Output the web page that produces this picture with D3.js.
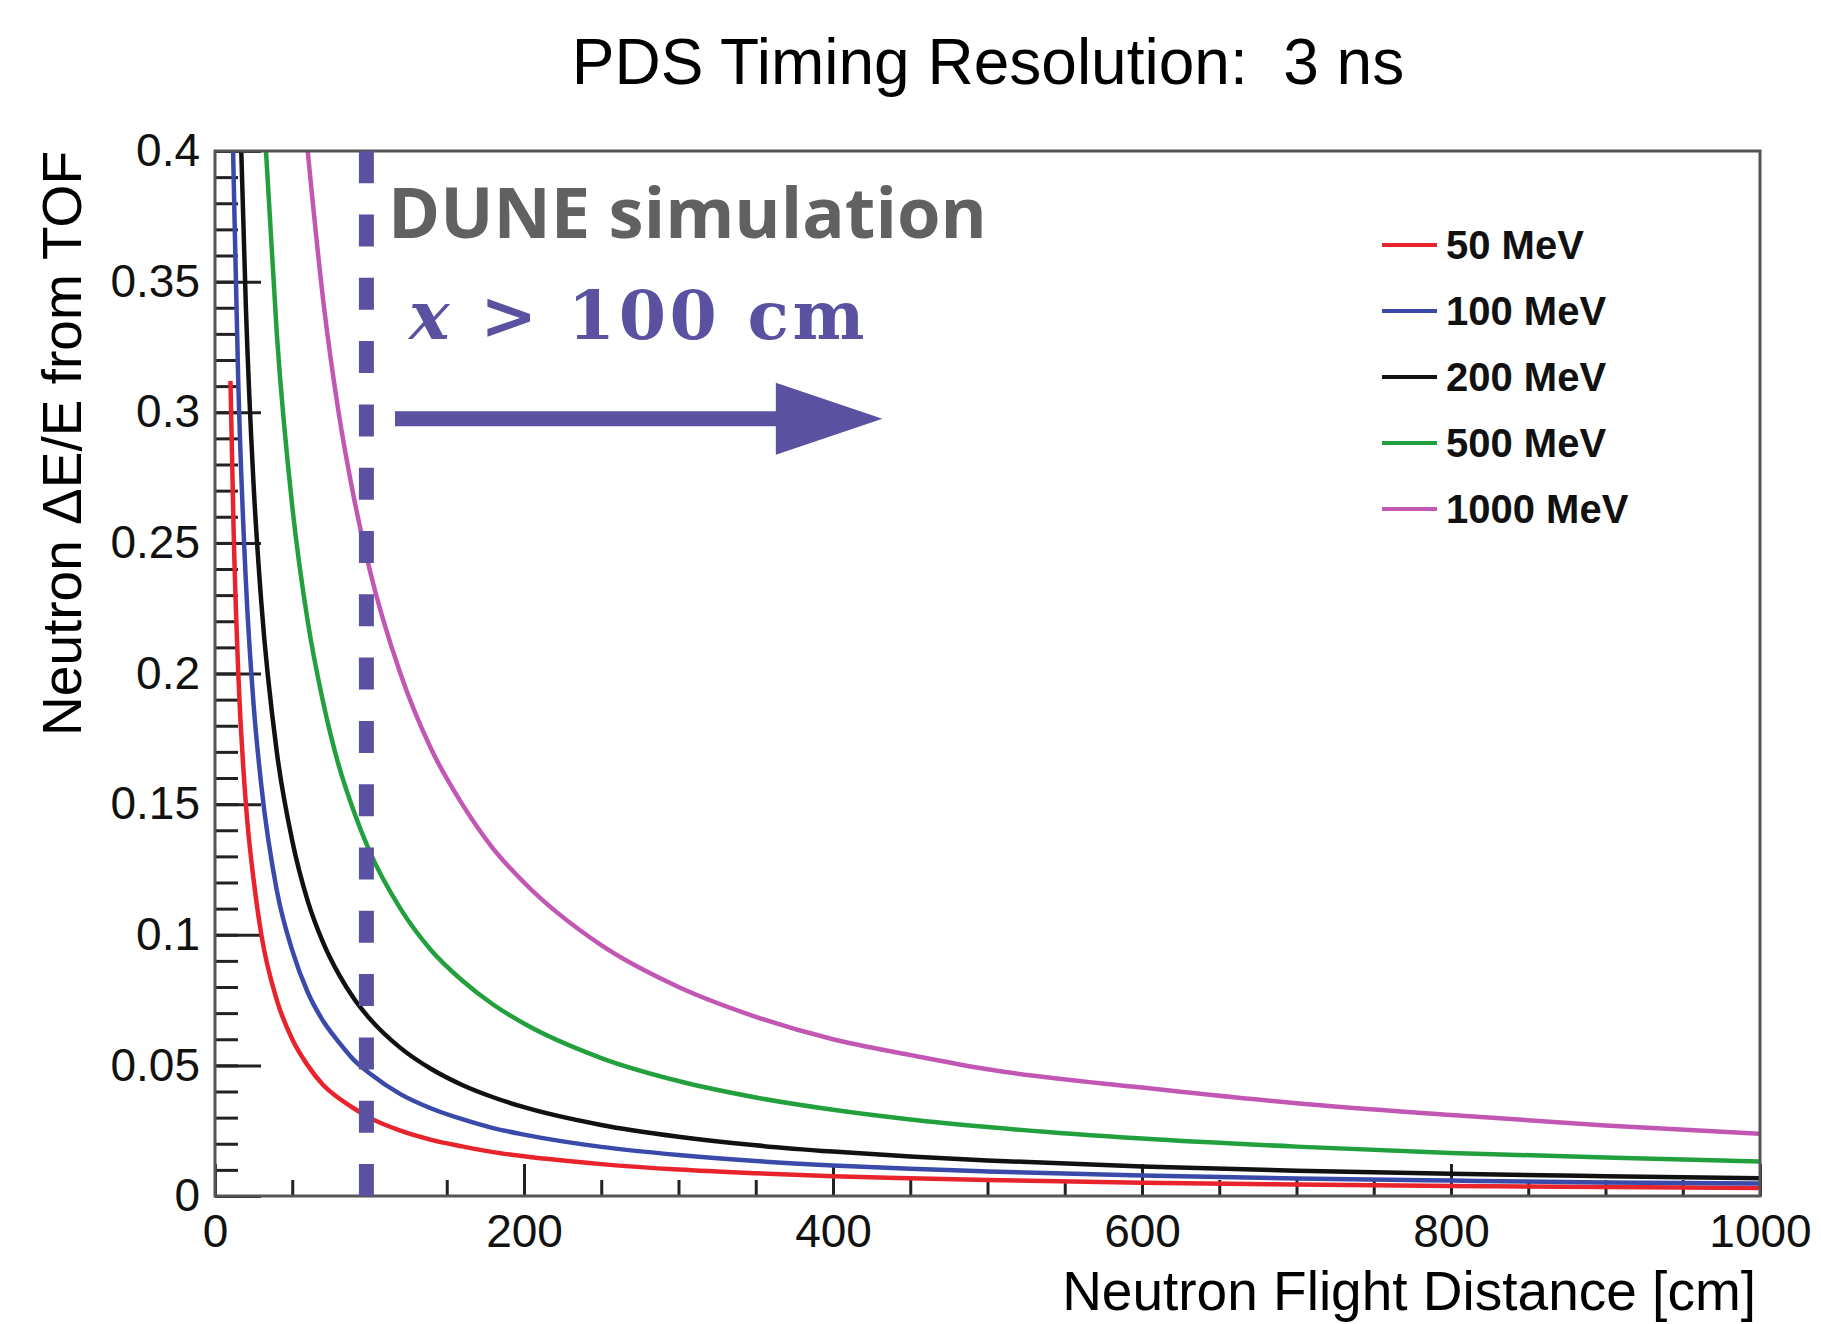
<!DOCTYPE html>
<html>
<head>
<meta charset="utf-8">
<script src="https://cdn.jsdelivr.net/npm/d3@7"></script>
<style>
    body { margin: 0; background: #fff; }
    svg text { font-family: "Liberation Sans", Arial, sans-serif; }
</style>
</head>
<body>
<div id="chart"></div>
<script>
// values (neutron energy resolution from TOF, 3 ns)
const distances = [10, 12, 15, 20, 25, 30, 40, 50, 60, 70, 80, 90, 100, 120, 140, 160, 180, 200,
    250, 300, 350, 400, 450, 500, 600, 700, 800, 900, 1000];

const res50 = [0.312, 0.256, 0.201, 0.150, 0.121, 0.100, 0.075, 0.060, 0.050, 0.0425, 0.0375, 0.0335, 0.030,
    0.025, 0.0215, 0.019, 0.0168, 0.0152, 0.0122, 0.0101, 0.0087, 0.0076, 0.0068, 0.0061, 0.0051, 0.0044,
    0.0038, 0.0034, 0.0031];
const res100 = [null, 0.392, 0.313, 0.235, 0.188, 0.157, 0.117, 0.094, 0.078, 0.067, 0.059, 0.052, 0.047,
    0.039, 0.0335, 0.0294, 0.026, 0.0235, 0.0188, 0.0157, 0.0134, 0.0117, 0.0104, 0.0094, 0.0078, 0.0067,
    0.0059, 0.0052, 0.0048];
const res200 = [null, null, null, 0.340, 0.272, 0.227, 0.170, 0.136, 0.113, 0.097, 0.085, 0.0755, 0.068,
    0.0567, 0.0486, 0.0425, 0.0378, 0.034, 0.0272, 0.0227, 0.0194, 0.017, 0.0151, 0.0136, 0.0113, 0.0097,
    0.0085, 0.0076, 0.0068];
const res500 = [null, null, null, null, null, null, 0.330, 0.264, 0.220, 0.189, 0.165, 0.147, 0.132,
    0.110, 0.094, 0.0825, 0.0733, 0.066, 0.0528, 0.044, 0.0377, 0.033, 0.0293, 0.0264, 0.022, 0.0189,
    0.0165, 0.0147, 0.0132];
const res1000 = [null, null, null, null, null, null, null, null, null, 0.343, 0.300, 0.267, 0.240,
    0.200, 0.171, 0.150, 0.133, 0.120, 0.096, 0.080, 0.0686, 0.060, 0.054, 0.0485, 0.0415, 0.0355,
    0.031, 0.027, 0.0238];

// distance where each curve comes down through the top of the frame (0.4)
const topCrossing = [null, 11.7, 17, 33, 60];

const energyLabels = ["50 MeV", "100 MeV", "200 MeV", "500 MeV", "1000 MeV"];
const lineColors = ["#e8232b", "#3a4aab", "#111111", "#23a03e", "#c257b3"];

const xTickValues = [0, 200, 400, 600, 800, 1000];
const xTickLabels = ["0", "200", "400", "600", "800", "1000"];
const yTickValues = [0, 0.05, 0.1, 0.15, 0.2, 0.25, 0.3, 0.35, 0.4];
const yTickLabels = ["0", "0.05", "0.1", "0.15", "0.2", "0.25", "0.3", "0.35", "0.4"];

const cutDistance = 98;   // hand drawn x > 100 cm marker, sits a bit left of 100


class ResolutionPlot {

    constructor(parentElement, dimCanvas) {
        this.parentElement = parentElement;
        this.dimCanvas = dimCanvas;

        this.initVis();
    }

    initVis() {
        let vis = this;

        vis.margin = {top: 151, right: 61, bottom: 128, left: 215};
        vis.width = vis.dimCanvas.width - vis.margin.left - vis.margin.right;
        vis.height = vis.dimCanvas.height - vis.margin.top - vis.margin.bottom;

        vis.svg = d3.select(vis.parentElement)
            .append("svg")
            .attr("width", vis.dimCanvas.width)
            .attr("height", vis.dimCanvas.height)
            .style("background", "#fff");

        vis.plot = vis.svg.append("g")
            .attr("transform", "translate(" + vis.margin.left + "," + vis.margin.top + ")");

        vis.svg.append("defs").append("clipPath")
            .attr("id", "frame-clip")
            .append("rect")
            .attr("width", vis.width)
            .attr("height", vis.height);

        // scales
        vis.xScale = d3.scaleLinear().domain([0, 1000]).range([0, vis.width]);
        vis.yScale = d3.scaleLinear().domain([0, 0.4]).range([vis.height, 0]);

        // title
        vis.svg.append("text")
            .attr("x", 988)
            .attr("y", 84)
            .attr("text-anchor", "middle")
            .style("font-size", "64px")
            .style("white-space", "pre")
            .text("PDS Timing Resolution:  3 ns");

        // axis titles
        vis.svg.append("text")
            .attr("x", vis.margin.left + vis.width - 4)
            .attr("y", 1310)
            .attr("text-anchor", "end")
            .style("font-size", "55px")
            .text("Neutron Flight Distance [cm]");

        vis.svg.append("text")
            .attr("transform", "translate(81," + vis.margin.top + ") rotate(-90)")
            .attr("text-anchor", "end")
            .style("font-size", "55px")
            .text("Neutron \u0394E/E from TOF");

        vis.wrangleData();
    }

    wrangleData() {
        let vis = this;

        let series = [res50, res100, res200, res500, res1000];

        vis.curves = series.map(function (values, i) {
            let pts = [];
            if (topCrossing[i] !== null) {
                pts.push({x: topCrossing[i], y: 0.4});
            }
            values.forEach(function (v, j) {
                if (v !== null) pts.push({x: distances[j], y: v});
            });
            return {label: energyLabels[i], color: lineColors[i], values: pts};
        });

        vis.updateVis();
    }

    updateVis() {
        let vis = this;

        // ROOT style axes: ticks inside the frame
        let yAxisMinor = d3.axisLeft(vis.yScale)
            .tickValues(d3.range(0, 0.4001, 0.01))
            .tickSize(-23)
            .tickFormat("");
        let yAxis = d3.axisLeft(vis.yScale)
            .tickValues(yTickValues)
            .tickSize(-46)
            .tickSizeOuter(0)
            .tickPadding(15)
            .tickFormat((d, i) => yTickLabels[i]);

        let xAxisMinor = d3.axisBottom(vis.xScale)
            .tickValues(d3.range(0, 1001, 50))
            .tickSize(-16)
            .tickFormat("");
        let xAxis = d3.axisBottom(vis.xScale)
            .tickValues(xTickValues)
            .tickSize(-32)
            .tickSizeOuter(0)
            .tickPadding(18)
            .tickFormat((d, i) => xTickLabels[i]);

        vis.plot.append("g").attr("class", "y-axis-minor").call(yAxisMinor);
        vis.plot.append("g").attr("class", "y-axis").call(yAxis);
        vis.plot.append("g").attr("class", "x-axis-minor")
            .attr("transform", "translate(0," + vis.height + ")").call(xAxisMinor);
        vis.plot.append("g").attr("class", "x-axis")
            .attr("transform", "translate(0," + vis.height + ")").call(xAxis);

        vis.plot.selectAll(".domain").remove();
        vis.plot.selectAll(".tick line")
            .attr("stroke", "#222")
            .attr("stroke-width", 3);
        vis.plot.selectAll(".tick text")
            .attr("fill", "#111")
            .style("font-size", "46px");

        // curves
        let line = d3.line()
            .x(d => vis.xScale(d.x))
            .y(d => vis.yScale(d.y))
            .curve(d3.curveMonotoneX);

        vis.plot.append("g")
            .attr("clip-path", "url(#frame-clip)")
            .selectAll("path.curve")
            .data(vis.curves)
            .enter()
            .append("path")
            .attr("class", "curve")
            .attr("d", d => line(d.values))
            .attr("fill", "none")
            .attr("stroke", d => d.color)
            .attr("stroke-width", 4.5);

        // frame
        vis.plot.append("rect")
            .attr("width", vis.width)
            .attr("height", vis.height)
            .attr("fill", "none")
            .attr("stroke", "#555")
            .attr("stroke-width", 3);

        // dashed cut line, drawn from the bottom up
        vis.plot.append("line")
            .attr("x1", vis.xScale(cutDistance))
            .attr("x2", vis.xScale(cutDistance))
            .attr("y1", vis.yScale(0))
            .attr("y2", vis.yScale(0.4))
            .attr("stroke", "#5b51a1")
            .attr("stroke-width", 15)
            .attr("stroke-dasharray", "32 31.3");

        // arrow pointing to larger distances
        let ay = vis.yScale(0.2975);
        let x0 = vis.xScale(116.5), xh = vis.xScale(363), xt = vis.xScale(432);
        vis.plot.append("path")
            .attr("d", "M" + x0 + "," + (ay - 7.5) + "H" + xh + "V" + (ay - 36) + "L" + xt + "," + ay
                + "L" + xh + "," + (ay + 36) + "V" + (ay + 7.5) + "H" + x0 + "Z")
            .attr("fill", "#5b51a1");

        vis.plot.append("text")
            .attr("x", 173)
            .attr("y", 87)
            .attr("fill", "#616161")
            .style("font-family", "'Open Sans', sans-serif")
            .style("font-weight", "bold")
            .style("font-size", "70.5px")
            .text("DUNE simulation");

        let cut = vis.plot.append("text")
            .attr("x", 194)
            .attr("y", 188)
            .attr("fill", "#5b51a1")
            .style("font-family", "'DejaVu Serif', serif")
            .style("font-weight", "bold")
            .style("font-size", "68px")
            .style("letter-spacing", "3.5px")
            .style("white-space", "pre");
        cut.append("tspan").style("font-style", "italic").text("x");
        cut.append("tspan").text(" > 100 cm");

        // legend
        let legend = vis.plot.selectAll("g.legend")
            .data(vis.curves)
            .enter()
            .append("g")
            .attr("class", "legend")
            .attr("transform", (d, i) => "translate(1167," + (94 + i * 66) + ")");
        legend.append("line")
            .attr("x1", 0)
            .attr("x2", 55)
            .attr("stroke", d => d.color)
            .attr("stroke-width", 4);
        legend.append("text")
            .attr("x", 64)
            .attr("dy", "0.36em")
            .style("font-weight", "bold")
            .style("font-size", "40px")
            .attr("fill", "#111")
            .text(d => d.label);
    }
}

new ResolutionPlot("#chart", {width: 1821, height: 1324});
</script>
</body>
</html>
